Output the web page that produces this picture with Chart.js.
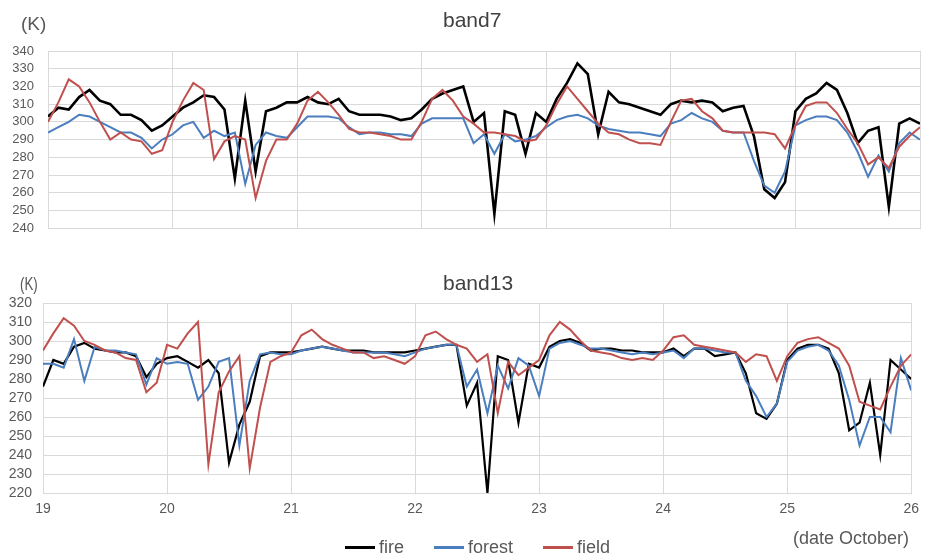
<!DOCTYPE html>
<html>
<head>
<meta charset="utf-8">
<script src="https://cdn.jsdelivr.net/npm/chart.js@4.4.0/dist/chart.umd.min.js"></script>
<style>
  body { margin: 0; background: #fff; font-family: "Liberation Sans", Arial, sans-serif; color: #595959; }
  #wrap { position: relative; width: 927px; height: 556px; overflow: hidden; }
  .box { position: absolute; left: 0; width: 927px; }
  .txt { position: absolute; white-space: nowrap; }
  #legend { position: absolute; left: 345px; top: 538px; display: flex; gap: 30px; font-size: 18px; line-height: 18px; }
  #legend .item { display: flex; align-items: center; gap: 4px; }
  #legend .mark { width: 30px; height: 3px; }
</style>
</head>
<body>
<div id="wrap">
  <div class="box" style="top:0;height:250px"><canvas id="band7"></canvas></div>
  <div class="box" style="top:250px;height:306px"><canvas id="band13"></canvas></div>
  <div class="txt" style="left:21px;top:14px;font-size:19px;line-height:19px">(K)</div>
  <div class="txt" style="left:443px;top:9px;font-size:21px;line-height:21px;color:#404040">band7</div>
  <div class="txt" style="left:20px;top:274px;font-size:19px;line-height:19px;transform:scaleX(0.7);transform-origin:left">(K)</div>
  <div class="txt" style="left:443px;top:272px;font-size:21px;line-height:21px;color:#404040">band13</div>
  <div class="txt" style="left:793px;top:529px;font-size:18px;line-height:18px">(date October)</div>
  <div id="legend"></div>
</div>
<script>
// hours after 19 October 00:00
const hours = [0, 2, 4, 6, 8, 10, 12, 14, 16, 18, 20, 22, 24, 26, 28, 30, 32, 34, 36, 38, 40, 42, 44, 46, 48, 50, 52, 54, 56, 58, 60, 62, 64, 66, 68, 70, 72, 74, 76, 78, 80, 82, 84, 86, 88, 90, 92, 94, 96, 98, 100, 102, 104, 106, 108, 110, 112, 114, 116, 118, 120, 122, 124, 126, 128, 130, 132, 134, 136, 138, 140, 142, 144, 146, 148, 150, 152, 154, 156, 158, 160, 162, 164, 166, 168];
const dayTicks = [19, 20, 21, 22, 23, 24, 25, 26];

const seriesNames = ['fire', 'forest', 'field'];
const seriesColors = ['#000000', '#4a7ebf', '#c0504d'];

// band7 (K)
const fire7 = [303, 308, 307, 314, 318, 312, 310, 304, 304, 301, 295, 298, 303, 308, 311, 315, 314, 307, 268, 312, 272, 306, 308, 311, 311, 314, 311, 310, 313, 306, 304, 304, 304, 303, 301, 302, 307, 313, 316, 318, 320, 300, 305, 248, 306, 304, 282, 305, 300, 313, 322, 333, 327, 293, 317, 311, 310, 308, 306, 304, 310, 312, 311, 312, 311, 306, 308, 309, 292, 262, 257, 266, 306, 313, 316, 322, 318, 305, 288, 295, 297, 252, 299, 302, 299];
const forest7 = [294, 297, 300, 304, 303, 300, 297, 294, 294, 291, 285, 290, 293, 298, 300, 291, 295, 292, 294, 265, 287, 294, 292, 291, 297, 303, 303, 303, 302, 297, 293, 294, 294, 293, 293, 292, 299, 302, 302, 302, 302, 288, 293, 282, 293, 289, 290, 292, 297, 301, 303, 304, 302, 298, 296, 295, 294, 294, 293, 292, 299, 301, 305, 302, 300, 295, 294, 294, 278, 264, 260, 272, 298, 301, 303, 303, 301, 294, 283, 269, 281, 272, 288, 294, 290];
const field7 = [300, 311, 324, 320, 311, 300, 290, 294, 290, 289, 282, 284, 300, 312, 322, 318, 279, 289, 292, 290, 257, 278, 290, 290, 299, 312, 317, 311, 304, 296, 294, 294, 293, 292, 290, 290, 300, 313, 318, 312, 303, 299, 294, 294, 293, 292, 289, 290, 298, 310, 320, 313, 306, 299, 294, 293, 290, 288, 288, 287, 300, 312, 313, 306, 302, 295, 294, 294, 294, 294, 293, 285, 298, 309, 311, 311, 305, 296, 288, 276, 280, 274, 286, 292, 297];

// band13 (K)
const fire13 = [276, 290, 288, 297, 299, 296, 295, 294, 294, 292, 281, 288, 291, 292, 289, 286, 290, 283, 236, 256, 268, 292, 294, 294, 294, 295, 296, 297, 296, 295, 295, 295, 294, 294, 294, 294, 295, 296, 297, 298, 298, 266, 278, 220, 292, 290, 257, 288, 286, 297, 300, 301, 299, 295, 296, 296, 295, 295, 294, 294, 294, 296, 292, 296, 296, 292, 293, 294, 283, 262, 259, 267, 290, 296, 298, 298, 296, 283, 253, 257, 278, 240, 290, 285, 280];
const forest13 = [288, 288, 286, 301, 279, 297, 295, 295, 294, 293, 277, 291, 288, 289, 288, 269, 276, 289, 291, 245, 279, 293, 294, 293, 293, 295, 296, 297, 296, 295, 294, 294, 294, 294, 293, 292, 294, 296, 297, 298, 298, 276, 285, 262, 287, 275, 291, 287, 271, 296, 299, 300, 298, 296, 296, 295, 294, 293, 294, 293, 294, 295, 291, 296, 296, 295, 294, 294, 279, 271, 260, 267, 289, 295, 297, 298, 295, 287, 269, 245, 260, 260, 252, 291, 274];
const field13 = [295, 304, 312, 308, 300, 298, 295, 294, 291, 290, 273, 278, 298, 296, 304, 310, 235, 273, 284, 292, 233, 265, 289, 292, 294, 303, 306, 301, 298, 296, 294, 294, 291, 292, 290, 288, 292, 303, 305, 301, 298, 296, 289, 293, 262, 289, 282, 286, 290, 303, 310, 306, 300, 295, 294, 293, 291, 290, 291, 290, 295, 302, 303, 298, 297, 296, 295, 294, 289, 293, 292, 279, 292, 299, 301, 302, 299, 296, 287, 268, 266, 264, 276, 287, 293];

const toPoints = (values) => values.map((v, i) => ({ x: 19 + hours[i] / 24, y: v }));

const gridColor = '#d9d9d9';

const makeChart = (id, values, yMin, yMax, lay) => {
  const ctx = document.getElementById(id).getContext('2d');
  return new Chart(ctx, {
    type: 'line',
    data: {
      datasets: values.map((vals, k) => ({
        label: seriesNames[k],
        data: toPoints(vals),
        borderColor: seriesColors[k],
        backgroundColor: seriesColors[k],
        borderWidth: k === 0 ? lay.fireWidth : 2,
        pointRadius: 0,
        tension: 0,
        order: 3 - k
      }))
    },
    options: {
      responsive: true,
      maintainAspectRatio: false,
      animation: false,
      layout: { padding: lay.padding },
      plugins: { legend: { display: false }, tooltip: { enabled: false } },
      scales: {
        x: {
          type: 'linear',
          min: 19,
          max: 26,
          afterBuildTicks: (s) => { s.ticks = dayTicks.map(v => ({ value: v })); },
          afterFit: (s) => { s.height = lay.xHeight; },
          grid: { color: gridColor, drawTicks: false },
          border: { color: gridColor },
          ticks: {
            display: lay.showX,
            autoSkip: false,
            maxRotation: 0,
            padding: 8,
            color: '#595959',
            font: { family: 'Liberation Sans', size: 14 }
          }
        },
        y: {
          min: yMin,
          max: yMax,
          afterFit: (s) => { s.width = lay.yWidth; },
          grid: { color: gridColor, drawTicks: false },
          border: { color: gridColor },
          ticks: {
            stepSize: 10,
            autoSkip: false,
            padding: lay.yPad,
            color: '#595959',
            font: { family: 'Liberation Sans', size: lay.yFont }
          }
        }
      }
    }
  });
};

makeChart('band7', [fire7, forest7, field7], 240, 340, {
  padding: { left: 0, right: 7, top: 51, bottom: 9 },
  xHeight: 0, showX: false, yWidth: 48, yPad: 14, yFont: 13, fireWidth: 2.6
});

makeChart('band13', [fire13, forest13, field13], 220, 320, {
  padding: { left: 0, right: 9, top: 53, bottom: 38 },
  xHeight: 25, showX: true, yWidth: 43, yPad: 11, yFont: 14, fireWidth: 2.2
});

const legend = document.getElementById('legend');
seriesNames.forEach((name, k) => {
  const item = document.createElement('div');
  item.className = 'item';
  item.innerHTML = `<span class="mark" style="background:${seriesColors[k]}"></span><span>${name}</span>`;
  legend.appendChild(item);
});
</script>
</body>
</html>
